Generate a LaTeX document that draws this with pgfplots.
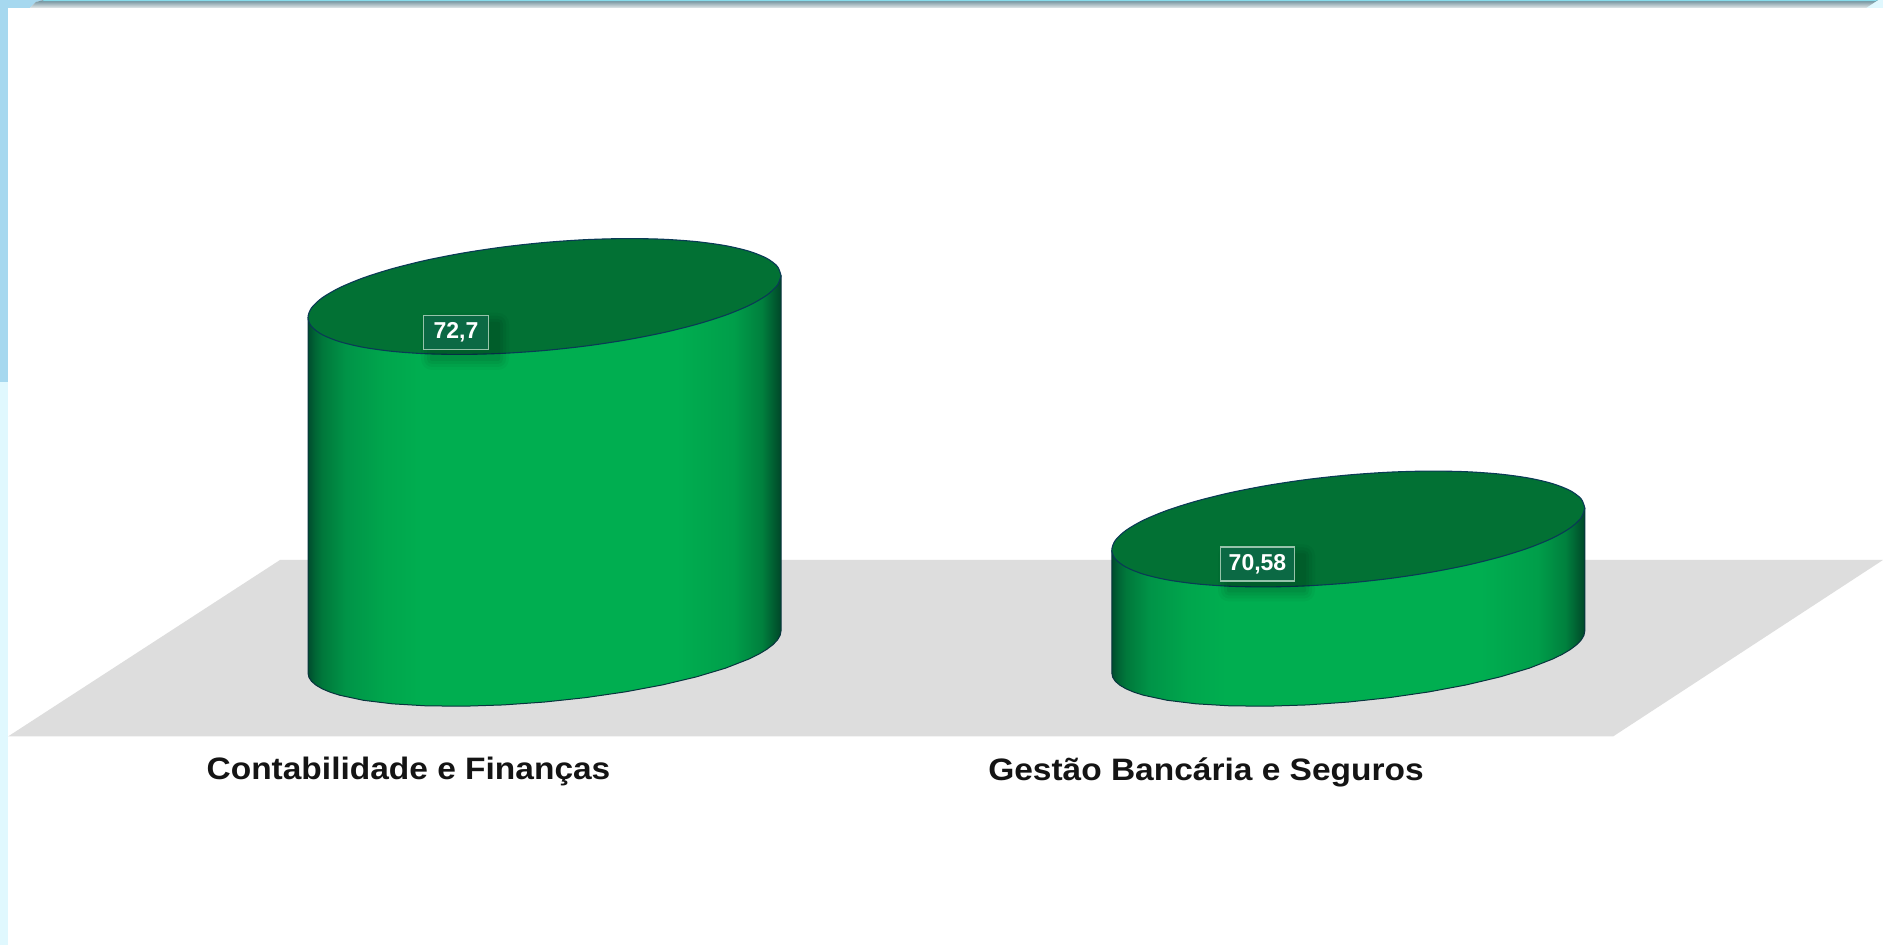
\documentclass[border=0pt]{standalone}
\usepackage{fontspec}
\usepackage{graphicx}
\usepackage{pgfplots}
\usepackage{pgfplotstable}
\pgfplotsset{compat=1.18}
\setmainfont{Liberation Sans}
\definecolor{topgreen}{RGB}{2,113,52}
\definecolor{edgeblue}{RGB}{10,58,85}
\definecolor{sideedge}{RGB}{8,52,62}
\definecolor{floorgray}{RGB}{221,221,221}
\definecolor{stripblue}{RGB}{166,216,239}
\definecolor{stripcyan}{RGB}{224,248,254}
\definecolor{labelfill}{RGB}{11,105,68}
\definecolor{labeledge}{RGB}{150,195,170}
\definecolor{bandtop}{RGB}{104,138,150}
\definecolor{bandmid}{RGB}{160,180,186}
\definecolor{bandbot}{RGB}{228,234,235}
\definecolor{bandline}{RGB}{135,220,235}
\pgfdeclarehorizontalshading{cylside}{100bp}{
 rgb(0bp)=(0,.30,.18);
 rgb(25bp)=(0,.30,.18);
 rgb(25.75bp)=(0,.40,.21);
 rgb(26.5bp)=(0,.47,.23);
 rgb(29bp)=(0,.58,.28);
 rgb(33bp)=(0,.65,.30);
 rgb(37bp)=(0,.682,.314);
 rgb(64bp)=(0,.682,.314);
 rgb(70bp)=(0,.62,.29);
 rgb(73bp)=(0,.50,.24);
 rgb(75bp)=(0,.28,.16);
 rgb(100bp)=(0,.28,.16)}
% Top ellipse outline: offsets in pixels from the centre of the top face
\pgfplotstableread{
dx dy
236.5 21.0
232.9 30.05
222.2 38.2
204.8 45.19
181.2 50.8
152.0 54.86
118.3 57.26
80.9 57.92
41.1 56.83
0 54.0
-41.1 49.53
-80.9 43.56
-118.3 36.26
-152.0 27.86
-181.2 18.62
-204.8 8.81
-222.2 -1.26
-232.9 -11.31
-236.5 -21.0
-232.9 -30.05
-222.2 -38.2
-204.8 -45.19
-181.2 -50.8
-152.0 -54.86
-118.3 -57.26
-80.9 -57.92
-41.1 -56.83
0 -54.0
41.1 -49.53
80.9 -43.56
118.3 -36.26
152.0 -27.86
181.2 -18.62
204.8 -8.81
222.2 1.26
232.9 11.31
236.5 21.0
}\topface
% Cylinder sides: offsets in pixels from the centre of the base
\pgfplotstableread{
dx dy
-236.5 334.5
-236.5 -21
-235.6 -25.28
-232.9 -29.36
-228.4 -33.22
-222.2 -36.83
-214.3 -40.16
-204.8 -43.19
-181.2 -48.23
-152.0 -51.8
-118.3 -53.8
-80.9 -54.17
-41.1 -52.89
0 -50
41.1 -45.59
80.9 -39.81
118.3 -32.8
152.0 -24.8
181.2 -16.05
204.8 -6.81
214.3 -2.1
222.2 2.63
228.4 7.34
232.9 12
235.6 16.56
236.5 21
236.5 376.5
}\sideA
\pgfplotstableread{
dx dy
-236.5 102
-236.5 -21
-235.6 -25.28
-232.9 -29.36
-228.4 -33.22
-222.2 -36.83
-214.3 -40.16
-204.8 -43.19
-181.2 -48.23
-152.0 -51.8
-118.3 -53.8
-80.9 -54.17
-41.1 -52.89
0 -50
41.1 -45.59
80.9 -39.81
118.3 -32.8
152.0 -24.8
181.2 -16.05
204.8 -6.81
214.3 -2.1
222.2 2.63
228.4 7.34
232.9 12
235.6 16.56
236.5 21
236.5 144
}\sideB
\pgfplotstableread{
x py
8 736.5
280 560
1883 560
1613 736.5
}\floorplane
\pgfplotstableread{
x py
0 0
8 0
8 382
0 382
}\stripA
\pgfplotstableread{
x py
0 382
8 382
8 945
0 945
}\stripB
\pgfplotstableread{
x py
0 0
44 0
36 2
30 8
0 8
}\cornerL
\pgfplotstableread{
x py
1870 0
1883 0
1883 8
1866 8
}\cornerR
\pgfplotstableread{
x py
30 8
36 2
44 0
1870 0
1878 0
1866 8
}\topband
\pgfplotstableread{
x py
44 0
1878 0
1875 1.2
42 1.2
}\topline
\begin{document}
\begin{tikzpicture}
\begin{axis}[
  scale only axis, width=1883pt, height=945pt,
  xmin=0, xmax=1883, ymin=66.7868, ymax=75.4036,
  hide axis,
  axis background/.style={fill=white},
]
% page furniture
\addplot[draw=none, fill=white] coordinates {(0,66.7868) (1883,66.7868) (1883,75.4036) (0,75.4036)};
\addplot[draw=none, fill=stripblue] table[x=x, y expr=75.4036-\thisrow{py}/109.67] {\stripA};
\addplot[draw=none, fill=stripcyan] table[x=x, y expr=75.4036-\thisrow{py}/109.67] {\stripB};
\addplot[draw=none, fill=stripblue] table[x=x, y expr=75.4036-\thisrow{py}/109.67] {\cornerL};
\addplot[draw=none, fill=stripcyan] table[x=x, y expr=75.4036-\thisrow{py}/109.67] {\cornerR};
\addplot[draw=none, top color=bandtop, middle color=bandmid, bottom color=bandbot] table[x=x, y expr=75.4036-\thisrow{py}/109.67] {\topband};
\addplot[draw=none, fill=bandline] table[x=x, y expr=75.4036-\thisrow{py}/109.67] {\topline};
% floor
\addplot[draw=none, fill=floorgray] table[x=x, y expr=75.4036-\thisrow{py}/109.67] {\floorplane};
% cylinder 1: 72.7, base at 69.458
\addplot[draw=sideedge, line width=1pt, line join=round, shade, shading=cylside] table[x expr=544.5+\thisrow{dx}, y expr=69.458+\thisrow{dy}/109.67] {\sideA};
\addplot[draw=edgeblue, line width=1.1pt, smooth, fill=topgreen] table[x expr=544.5+\thisrow{dx}, y expr=72.7+\thisrow{dy}/109.67] {\topface};
% cylinder 2: 70.58
\addplot[draw=sideedge, line width=1pt, line join=round, shade, shading=cylside] table[x expr=1348.3+\thisrow{dx}, y expr=69.458+\thisrow{dy}/109.67] {\sideB};
\addplot[draw=edgeblue, line width=1.1pt, smooth, fill=topgreen] table[x expr=1348.3+\thisrow{dx}, y expr=70.58+\thisrow{dy}/109.67] {\topface};
% label shadows
\node[fill=black, opacity=.05, inner sep=0pt, minimum width=70pt, minimum height=39pt, rounded corners=2pt] at (axis cs:465,72.29) {};
\node[fill=black, opacity=.05, inner sep=0pt, minimum width=76pt, minimum height=45pt, rounded corners=5pt] at (axis cs:465,72.29) {};
\node[fill=black, opacity=.04, inner sep=0pt, minimum width=82pt, minimum height=51pt, rounded corners=8pt] at (axis cs:465,72.29) {};
\node[fill=black, opacity=.03, inner sep=0pt, minimum width=88pt, minimum height=57pt, rounded corners=11pt] at (axis cs:465,72.29) {};
\node[fill=black, opacity=.05, inner sep=0pt, minimum width=79pt, minimum height=39pt, rounded corners=2pt] at (axis cs:1266.5,70.179) {};
\node[fill=black, opacity=.05, inner sep=0pt, minimum width=85pt, minimum height=45pt, rounded corners=5pt] at (axis cs:1266.5,70.179) {};
\node[fill=black, opacity=.04, inner sep=0pt, minimum width=91pt, minimum height=51pt, rounded corners=8pt] at (axis cs:1266.5,70.179) {};
\node[fill=black, opacity=.03, inner sep=0pt, minimum width=97pt, minimum height=57pt, rounded corners=11pt] at (axis cs:1266.5,70.179) {};
% value labels
\node[fill=labelfill, draw=labeledge, line width=1.3pt, inner sep=0pt, minimum width=65pt, minimum height=34pt, text=white, font=\fontsize{23}{23}\selectfont\bfseries] at (axis cs:456,72.3718) {\raisebox{-2pt}{72,7}};
\node[fill=labelfill, draw=labeledge, line width=1.3pt, inner sep=0pt, minimum width=74pt, minimum height=34pt, text=white, font=\fontsize{23}{23}\selectfont\bfseries] at (axis cs:1257.5,70.2609) {\raisebox{-2pt}{70,58}};
% category labels
\node[anchor=base, inner sep=0pt, text=black!92, font=\fontsize{31}{31}\selectfont\bfseries] at (axis cs:408.5,68.296) {\scalebox{1.08}[1]{Contabilidade e Finanças}};
\node[anchor=base, inner sep=0pt, text=black!92, font=\fontsize{31}{31}\selectfont\bfseries] at (axis cs:1206,68.287) {\scalebox{1.08}[1]{Gestão Bancária e Seguros}};
\end{axis}
\end{tikzpicture}
\end{document}
